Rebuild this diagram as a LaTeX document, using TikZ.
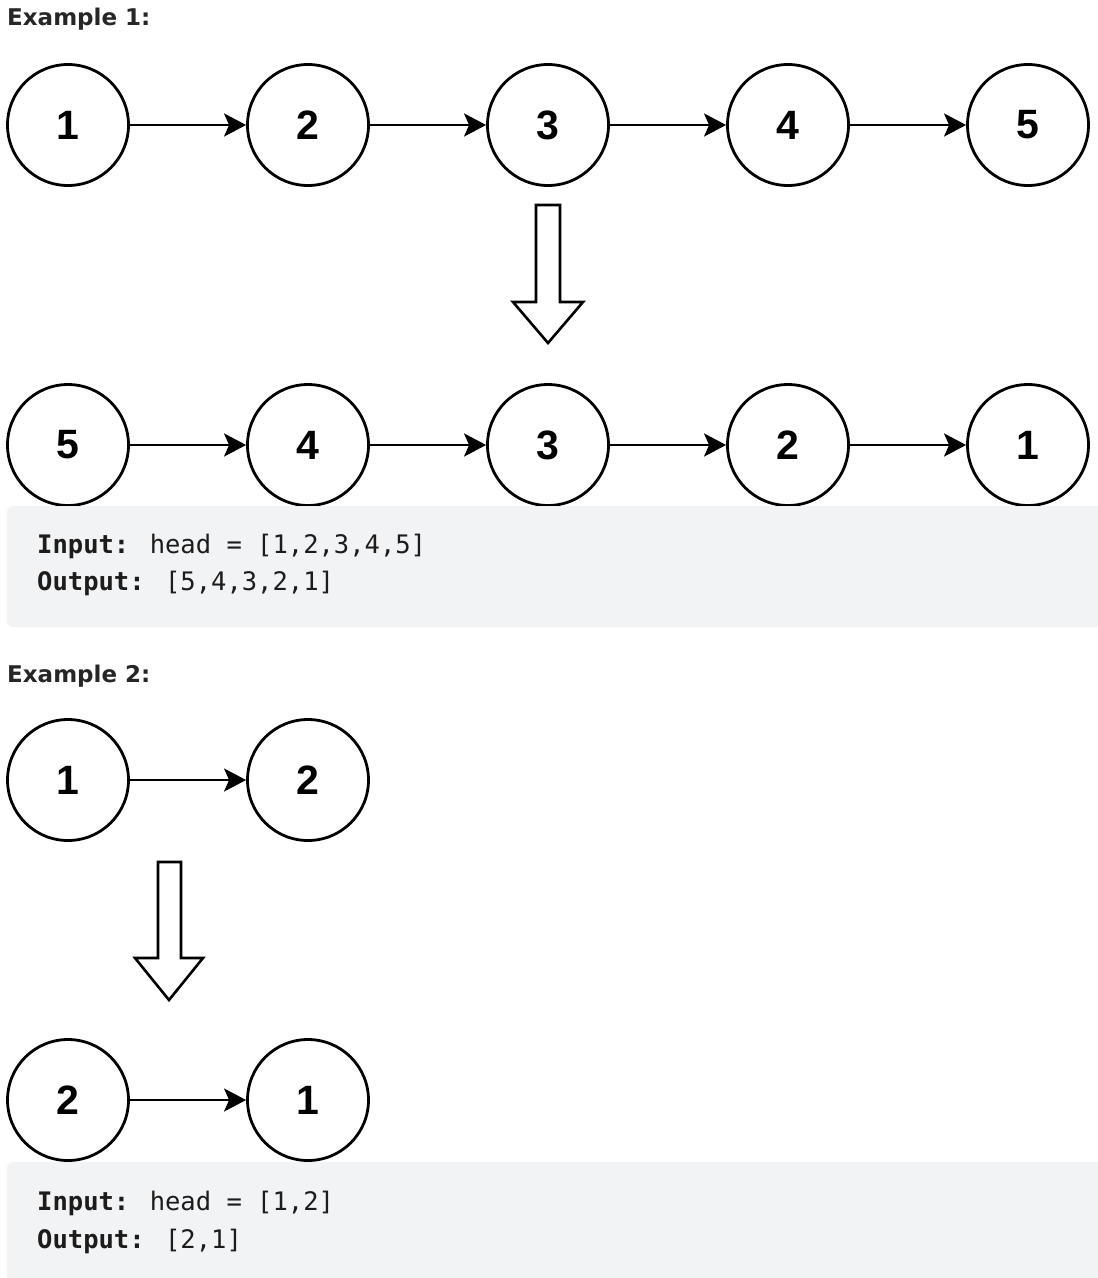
\documentclass[tikz,border=0pt]{standalone}
\usepackage{fontspec}
\setmainfont{Liberation Sans}
\newfontfamily\codefont{DejaVu Sans Mono}
\newfontfamily\headfont{DejaVu Sans}
\usetikzlibrary{arrows.meta}
\definecolor{boxbg}{HTML}{F2F3F5}
\definecolor{headtxt}{HTML}{262626}
\definecolor{codetxt}{HTML}{1C1C1C}
\tikzset{
  lnode/.style={circle, draw=black, line width=2.8pt, fill=white, minimum size=121pt, inner sep=0pt,
    font=\fontsize{41}{41}\selectfont\bfseries},
  link/.style={line width=2.7pt, -{Stealth[length=22pt,width=23pt,inset=5pt]}},
  bigarrow/.style={draw=black, line width=2.6pt, fill=white, line join=miter},
  heading/.style={anchor=base west, inner sep=0pt, text=headtxt, font=\headfont\fontsize{23}{23}\selectfont\bfseries},
  codeline/.style={anchor=base west, inner sep=0pt, text=codetxt, font=\codefont\fontsize{25.5}{25.5}\selectfont},
  codebox/.style={fill=boxbg, rounded corners=6pt, draw=none}
}
\begin{document}
\begin{tikzpicture}[x=1pt,y=-1pt]
\useasboundingbox (0,0) rectangle (1098,1278);
% Example 1
\node[heading] (h1) at (7,25) {Example 1:};
\foreach \n/\x in {1/68,2/308,3/548,4/788,5/1028} {
  \node[lnode] (a\n) at (\x,125) {\n};
}
\foreach \n/\x/\v in {1/68/5,2/308/4,3/548/3,4/788/2,5/1028/1} {
  \node[lnode] (b\n) at (\x,445) {\v};
}
\foreach \i/\j in {1/2,2/3,3/4,4/5} {
  \draw[link] (a\i) -- (a\j);
  \draw[link] (b\i) -- (b\j);
}
\draw[bigarrow] (536,205) -- (560,205) -- (560,302) -- (583,302) -- (548,343) -- (513,302) -- (536,302) -- cycle;
\fill[codebox] (7,506) rectangle (1110,627);
\node[codeline] (in1) at (37,553) {\textbf{Input:} head = [1,2,3,4,5]};
\node[codeline] (out1) at (37,590) {\textbf{Output:} [5,4,3,2,1]};
% Example 2
\node[heading] (h2) at (7,682) {Example 2:};
\node[lnode] (c1) at (68,780) {1};
\node[lnode] (c2) at (308,780) {2};
\node[lnode] (d1) at (68,1100) {2};
\node[lnode] (d2) at (308,1100) {1};
\draw[link] (c1) -- (c2);
\draw[link] (d1) -- (d2);
\draw[bigarrow] (158,862) -- (181,862) -- (181,958) -- (203,958) -- (169,1000) -- (135,958) -- (158,958) -- cycle;
\fill[codebox] (7,1162) rectangle (1110,1290);
\node[codeline] (in2) at (37,1210) {\textbf{Input:} head = [1,2]};
\node[codeline] (out2) at (37,1248) {\textbf{Output:} [2,1]};
\end{tikzpicture}
\end{document}
